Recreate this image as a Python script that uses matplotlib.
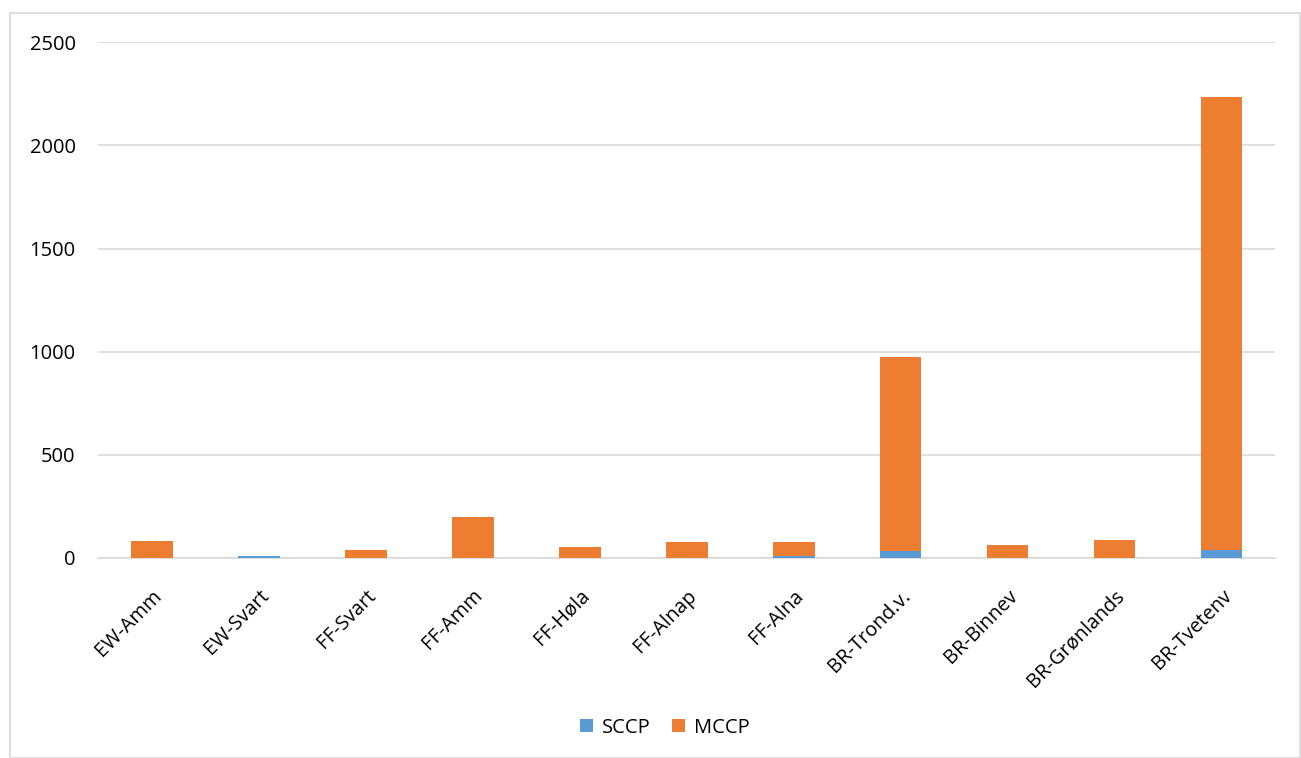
import numpy as np
import matplotlib.pyplot as plt
from matplotlib.patches import Rectangle

categories = ["EW-Amm", "EW-Svart", "FF-Svart", "FF-Amm", "FF-Høla", "FF-Alnap",
              "FF-Alna", "BR-Trond.v.", "BR-Binnev", "BR-Grønlands", "BR-Tvetenv"]
sccp = [0, 9, 0, 0, 0, 0, 11, 32, 0, 0, 40]
mccp = [84, 0, 41, 201, 52, 75, 64, 943, 61, 88, 2196]

plt.rcParams['font.family'] = ['Open Sans', 'DejaVu Sans']

fig = plt.figure(figsize=(13.01, 7.58), dpi=100)
ax = fig.add_axes([0.0757, 0.2639, 0.9043, 0.6803])

# chart frame
fig.patches.append(Rectangle((10 / 1301, 0), 1 - 11 / 1301, 1 - 13 / 758,
                             transform=fig.transFigure, fill=False,
                             edgecolor='#d9d9d9', linewidth=1.2))

x = np.arange(len(categories))
w = 0.39
ax.bar(x, sccp, w, color='#5b9bd5', label='SCCP', zorder=3)
ax.bar(x, mccp, w, bottom=sccp, color='#ed7d31', label='MCCP', zorder=3)

ax.set_xlim(-0.5, len(categories) - 0.5)
ax.set_ylim(0, 2500)
ax.set_yticks(np.arange(0, 2501, 500))
ax.yaxis.grid(True, color='#d9d9d9', linewidth=1.2, zorder=0)
ax.set_axisbelow(True)
for s in ['top', 'right', 'left']:
    ax.spines[s].set_visible(False)
ax.spines['bottom'].set_color('#d9d9d9')
ax.spines['bottom'].set_linewidth(1.2)
ax.tick_params(axis='both', length=0, colors='black')
ax.tick_params(axis='y', pad=16.5, labelsize=14.5)
ax.tick_params(axis='x', pad=20, labelsize=14.3)
ax.set_xticks(x)
ax.set_xticklabels(categories, rotation=45, ha='right', rotation_mode='anchor')
for lbl in ax.get_xticklabels():
    lbl.set_x(lbl.get_position()[0])

fig.legend(*ax.get_legend_handles_labels(), loc='center', bbox_to_anchor=(0.511, 0.04),
           ncol=2, frameon=False, fontsize=14.5, handlelength=0.65, handleheight=0.65,
           columnspacing=1.1, handletextpad=0.4)

fig.savefig('out.png', dpi=100)
